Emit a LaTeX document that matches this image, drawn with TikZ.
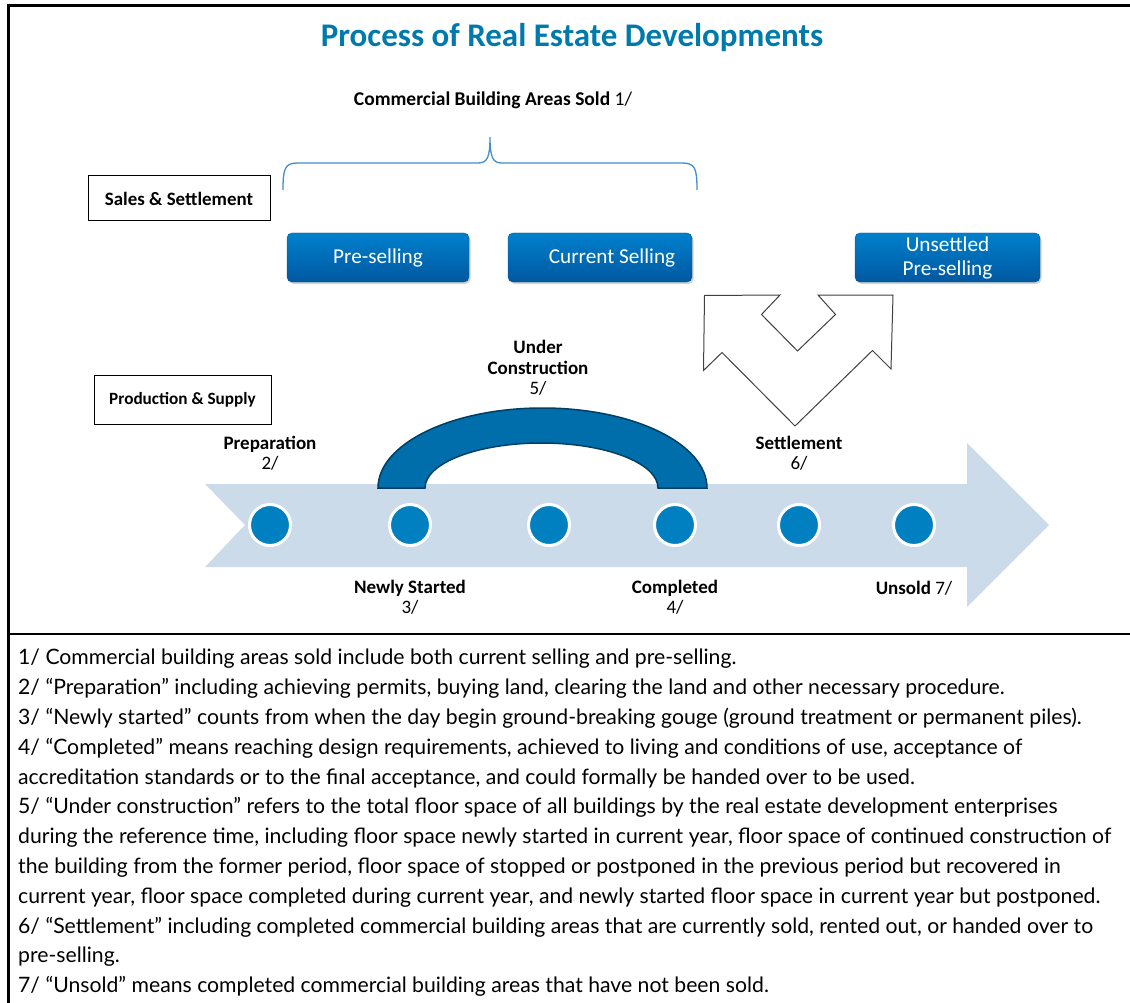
\documentclass[tikz,border=0pt]{standalone}
\usepackage{fontspec}
\setmainfont{Carlito}
\newfontfamily\notefont{Lato}
\usetikzlibrary{positioning,shadows}
\definecolor{titleblue}{RGB}{0,122,172}
\definecolor{btntop}{RGB}{0,128,204}
\definecolor{btnbot}{RGB}{0,88,160}
\definecolor{dotblue}{RGB}{0,128,192}
\definecolor{archblue}{RGB}{0,110,170}
\definecolor{archline}{RGB}{0,62,100}
\definecolor{flowpale}{RGB}{204,219,233}
\definecolor{braceblue}{RGB}{70,140,200}

\begin{document}
\begin{tikzpicture}[x=1pt,y=-1pt,
  plainbox/.style={draw, line width=1pt, font=\fontsize{18.9}{22}\selectfont\bfseries},
  btn/.style={rounded corners=5pt, top color=btntop, bottom color=btnbot, draw=btnbot,
    minimum height=49pt, text=white, align=center, font=\fontsize{21.2}{24}\selectfont,
    drop shadow={opacity=0.35, shadow xshift=1.5pt, shadow yshift=-2pt}},
  stage/.style={circle, fill=dotblue, draw=white, line width=3pt, minimum size=41pt, inner sep=0pt},
  lbl/.style={align=center, font=\fontsize{19}{20.5}\selectfont}]
\useasboundingbox (0,0) rectangle (1130,1003);
% Frame
\draw[line width=3pt] (8,1003) -- (8,6) -- (1130,6);
\draw[line width=1.5pt] (8,634) -- (1130,634);
\draw[line width=2.5pt] (8,634) -- (80,634);
\draw[line width=2.5pt] (1068,634) -- (1130,634);
% Title
\node[text=titleblue, font=\fontsize{33}{38}\selectfont\bfseries] (title) at (572,38) {Process of Real Estate Developments};
\node[font=\fontsize{19.5}{22}\selectfont] (sold) at (493,100) {\textbf{Commercial Building Areas Sold} 1/};
% Brace
\draw[braceblue, line width=1.3pt] (283,190) .. controls (283,168) and (285,163) .. (298,163) -- (478,163)
  .. controls (487,163) and (490,158) .. (490,137) .. controls (490,158) and (493,163) .. (502,163)
  -- (682,163) .. controls (695,163) and (697,168) .. (697,190);
% Row labels
\node[plainbox, minimum width=182pt, minimum height=45pt] (sales) at (179,198.5) {Sales \& Settlement};
\node[plainbox, minimum width=177pt, minimum height=49pt, font=\fontsize{17.2}{20}\selectfont\bfseries] (prod) at (182.5,399.5) {Production \& Supply};
% Sales
\node[btn, minimum width=182pt] (pre) at (378,257.5) {Pre-selling};
\node[btn, minimum width=184pt] (cur) at (600,257.5) {\hspace{24pt}Current Selling};
\node[btn, minimum width=185pt] (unset) at (947.5,257.5) {Unsettled\\Pre-selling};
% Split arrow
\draw[fill=white, draw=black!75, line width=1pt] (704.5,295.5) -- (780,295) -- (761.5,314.5) -- (797.5,351)
  -- (835.5,314.5) -- (818,295) -- (893,295) -- (891,369) -- (872.5,350.5) -- (795,426)
  -- (722,352.5) -- (703.5,370.5) -- cycle;
% Flow arrow
\fill[flowpale] (205,484) -- (967,484) -- (967,443) -- (1049,525) -- (967,607) -- (967,567)
  -- (205,567) -- (245,525) -- cycle;
% Under construction arch
\draw[fill=archblue, draw=archline, line width=1.5pt] (378,488) arc[start angle=180, end angle=360, x radius=164.5, y radius=80]
  -- (658,488) arc[start angle=360, end angle=180, x radius=116.5, y radius=45] -- cycle;
% Stages
\foreach \x [count=\i] in {270,410,549,675,799,914}
  \node[stage] (s\i) at (\x,525) {};
% Stage labels
\node[lbl] (prep) at (270,453) {\textbf{Preparation}\\2/};
\node[lbl] (under) at (538,368) {\textbf{Under}\\\textbf{Construction}\\5/};
\node[lbl] (settle) at (799,453) {\textbf{Settlement}\\6/};
\node[lbl] (newly) at (410,597) {\textbf{Newly Started}\\3/};
\node[lbl] (done) at (675,597) {\textbf{Completed}\\4/};
\node[lbl] (unsold) at (914,588) {\textbf{Unsold} 7/};
% Notes
\node[anchor=north west, align=left, inner sep=0pt, font=\notefont\fontsize{21.2}{29.8}\selectfont] (notes) at (18,649) {%
1/ Commercial building areas sold include both current selling and pre-selling.\\
2/ “Preparation” including achieving permits, buying land, clearing the land and other necessary procedure.\\
3/ “Newly started” counts from when the day begin ground-breaking gouge (ground treatment or permanent piles).\\
4/ “Completed” means reaching design requirements, achieved to living and conditions of use, acceptance of\\
accreditation standards or to the final acceptance, and could formally be handed over to be used.\\
5/ “Under construction” refers to the total floor space of all buildings by the real estate development enterprises\\
during the reference time, including floor space newly started in current year, floor space of continued construction of\\
the building from the former period, floor space of stopped or postponed in the previous period but recovered in\\
current year, floor space completed during current year, and newly started floor space in current year but postponed.\\
6/ “Settlement” including completed commercial building areas that are currently sold, rented out, or handed over to\\
pre-selling.\\
7/ “Unsold” means completed commercial building areas that have not been sold.};
\end{tikzpicture}
\end{document}
